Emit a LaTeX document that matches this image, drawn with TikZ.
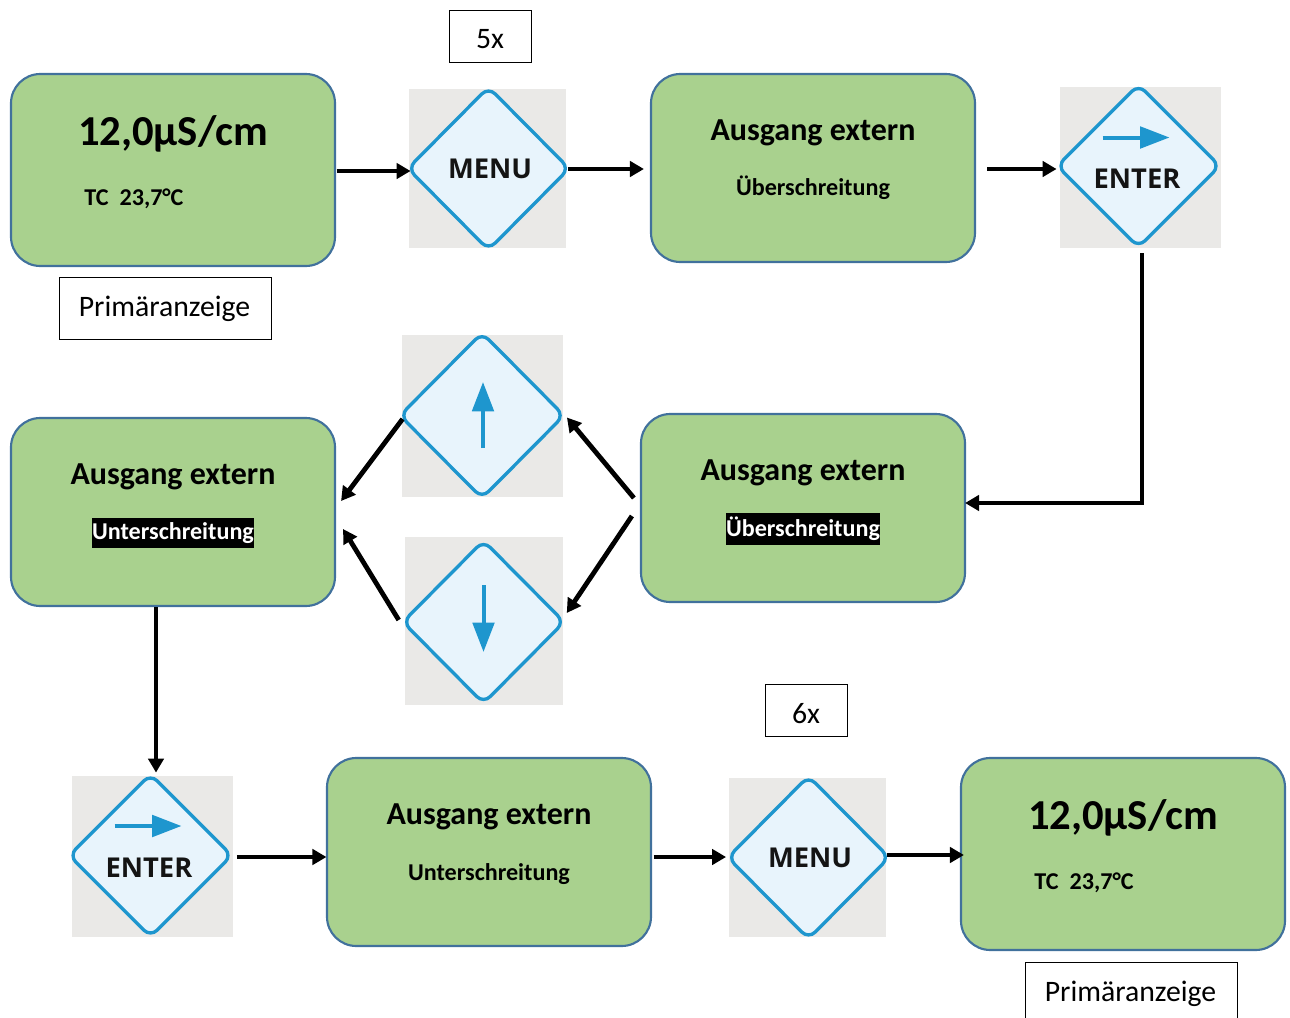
\documentclass[tikz,border=0pt]{standalone}
\usepackage{fontspec}
\setmainfont{Carlito}
\newfontfamily\btnfont{Open Sans}
\usetikzlibrary{shapes.geometric,arrows.meta,calc}
\definecolor{boxgreen}{HTML}{A9D18E}
\definecolor{boxedge}{HTML}{41719C}
\definecolor{btnblue}{HTML}{1E96CE}
\definecolor{btnfill}{HTML}{E8F4FC}
\definecolor{btnbg}{HTML}{EAE9E7}
\tikzset{
  x=0.75pt,y=-0.75pt,
  screen/.style={draw=boxedge,line width=1.6pt,fill=boxgreen,rounded corners=22pt,minimum width=243pt,inner sep=0pt},
  tag/.style={draw=black,line width=0.6pt,fill=white,inner sep=0pt},
  tagtext/.style={inner sep=0pt,font=\fontsize{22.3}{26}\selectfont},
  btnback/.style={fill=btnbg,draw=none,inner sep=0pt},
  btnshape/.style={diamond,draw=btnblue,line width=2.5pt,fill=btnfill,rounded corners=7pt,inner sep=0pt},
  btntext/.style={font=\btnfont\fontsize{20.5}{24}\selectfont\bfseries,text=black!92,inner sep=0pt},
  bluearrow/.style={draw=btnblue,line width=3pt,-{Triangle[length=#1,width=16pt,fill=btnblue]}},
  conn/.style={draw=black,line width=3.6pt,-{Triangle[length=10.5pt,width=11.5pt]}},
  big/.style={font=\fontsize{32}{38}\selectfont\bfseries,inner sep=0pt},
  head/.style={font=\fontsize{24}{28}\selectfont\bfseries,inner sep=0pt},
  small/.style={font=\fontsize{18.1}{22}\selectfont\bfseries,inner sep=0pt},
  inverse/.style={small,fill=black,text=white,inner ysep=3pt,inner xsep=0pt},
}
\begin{document}
\begin{tikzpicture}
\useasboundingbox (0,0) rectangle (1290,1018);
\clip (0,0) rectangle (1290,1018);
% screens
\node[screen,minimum height=144pt] (a) at (173,170) {};
\node[screen,minimum height=141pt] (b) at (813,168) {};
\node[screen,minimum height=141pt] (c) at (803,508) {};
\node[screen,minimum height=141pt] (d) at (173,512) {};
\node[screen,minimum height=141pt] (e) at (489,852) {};
\node[screen,minimum height=144pt] (f) at (1123,854) {};
% screen texts
\node[big] (a1) at (173,134) {12,0µS/cm};
\node[small] (a2) at (134,198.5) {TC\ \ 23,7°C};
\node[head] (b1) at (813,132.5) {Ausgang extern};
\node[small] (b2) at (813,188) {Überschreitung};
\node[head] (c1) at (803,472.5) {Ausgang extern};
\node[inverse] (c2) at (803,529) {Überschreitung};
\node[head] (d1) at (173,476.5) {Ausgang extern};
\node[inverse] (d2) at (173,533) {Unterschreitung};
\node[head] (e1) at (489,816.5) {Ausgang extern};
\node[small] (e2) at (489,874) {Unterschreitung};
\node[big] (f1) at (1123,818) {12,0µS/cm};
\node[small] (f2) at (1084,882.5) {TC\ \ 23,7°C};
% tags
\node[tag,minimum width=61.5pt,minimum height=39pt] (t1) at (490,36) {};
\node[tagtext] (t1t) at (490,39.5) {5x};
\node[tag,minimum width=159pt,minimum height=46pt] (t2) at (165,308.5) {};
\node[tagtext] (t2t) at (164.5,309) {Primäranzeige};
\node[tag,minimum width=61.5pt,minimum height=39pt] (t3) at (806,710) {};
\node[tagtext] (t3t) at (806,713.5) {6x};
\node[tag,minimum width=159pt,minimum height=60pt] (t4) at (1131,1002) {};
\node[tagtext] (t4t) at (1130.5,993.5) {Primäranzeige};
% menu 1
\node[btnback,minimum width=118pt,minimum height=119pt] (m1) at (487.5,168.5) {};
\node[btnshape,minimum width=122pt,minimum height=123pt] (m1d) at (488.5,168.5) {};
\node[btntext] (m1t) at (490,168.5) {MENU};
% enter 1
\node[btnback,minimum width=121pt,minimum height=121pt] (n1) at (1140.5,167.5) {};
\node[btnshape,minimum width=123pt,minimum height=123pt] (n1d) at (1138.5,166) {};
\node[btntext] (n1t) at (1137,178.5) {ENTER};
\draw[bluearrow=22pt] ($(n1d.center)+(-36,-28.5)$) -- ($(n1d.center)+(31,-28.5)$);
% up
\node[btnback,minimum width=121pt,minimum height=121.5pt] (u) at (482.5,416) {};
\node[btnshape,minimum width=124pt,minimum height=125pt] (ud) at (482,415.5) {};
\draw[bluearrow=22pt] ($(ud.center)+(1,32.5)$) -- ($(ud.center)+(1,-33.5)$);
% down
\node[btnback,minimum width=118.5pt,minimum height=126pt] (w) at (484,621) {};
\node[btnshape,minimum width=122pt,minimum height=123pt] (wd) at (483.5,622) {};
\draw[bluearrow=22pt] ($(wd.center)+(0,-37)$) -- ($(wd.center)+(0,30)$);
% enter 2
\node[btnback,minimum width=121pt,minimum height=121pt] (n2) at (152.5,856.5) {};
\node[btnshape,minimum width=123pt,minimum height=123pt] (n2d) at (150.5,855.5) {};
\node[btntext] (n2t) at (149,867.5) {ENTER};
\draw[bluearrow=22pt] ($(n2d.center)+(-36,-29.5)$) -- ($(n2d.center)+(31,-29.5)$);
% menu 2
\node[btnback,minimum width=118pt,minimum height=119pt] (m2) at (807.5,857.5) {};
\node[btnshape,minimum width=122pt,minimum height=123pt] (m2d) at (808.5,857.5) {};
\node[btntext] (m2t) at (810,857.5) {MENU};
% connectors
\draw[conn] ($(a.east)+(0.5,1)$) -- ($(m1.west)+(2,2.5)$);
\draw[conn] ($(m1.east)+(1.5,0.5)$) -- ($(b.west)+(-6,1)$);
\draw[conn] ($(b.east)+(11,1)$) -- ($(n1.west)+(-3,1.5)$);
\draw[conn] ($(n1.south)+(1.5,5)$) |- ($(c.east)+(-1,-5)$);
\draw[conn] ($(c.west)+(-6,-10)$) -- ($(u.east)+(3.5,1.5)$);
\draw[conn] ($(c.west)+(-8,8)$) -- ($(w.east)+(3.5,-8)$);
\draw[conn] ($(u.west)+(1,3)$) -- ($(d.east)+(5,-11)$);
\draw[conn] ($(w.west)+(-6,-1)$) -- ($(d.east)+(7,17)$);
\coordinate (dfoot) at ($(d.south)+(-17,0)$);
\draw[conn] (dfoot) -- (dfoot |- {$(n2.north)+(0,-3)$});
\draw[conn] ($(n2.east)+(3.5,0.5)$) -- ($(e.west)+(0.5,5)$);
\draw[conn] ($(e.east)+(1.5,5)$) -- ($(m2.west)+(-2.5,-0.5)$);
\draw[conn] ($(m2d.east)+(-5,-2.5)$) -- ($(f.west)+(4,1)$);
\end{tikzpicture}
\end{document}
